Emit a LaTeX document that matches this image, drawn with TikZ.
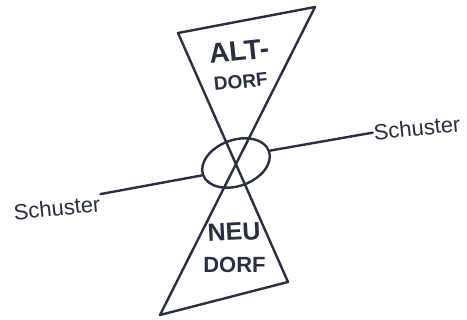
\documentclass[tikz,border=0pt]{standalone}
\usepackage{fontspec}
\setmainfont{Liberation Sans}
\usetikzlibrary{positioning,shapes.geometric}
\definecolor{pen}{HTML}{2B2F3D}
\tikzset{
  penline/.style={draw=pen,line width=2.4pt,line join=round,line cap=round},
  ringnode/.style={ellipse,penline,minimum width=70pt,minimum height=46pt,inner sep=0pt},
  dorflbl/.style={text=pen,font=\bfseries,inner sep=0pt,align=center},
  schlbl/.style={text=pen,font=\fontsize{22}{22}\selectfont,inner sep=1pt}
}
\begin{document}
\begin{tikzpicture}[x=1pt,y=-1pt,node distance=10pt]
  \useasboundingbox (0,0) rectangle (467,320);
  \draw[penline] (178,33) -- (315,7) -- (160,315) -- (288,282) -- cycle;
  \node[ringnode,rotate=20] (ring) at (236,163) {};

  \node[dorflbl,font=\bfseries\fontsize{28}{28}\selectfont,rotate=6] (alt) at (239,51) {ALT-};
  \node[dorflbl,font=\bfseries\fontsize{19}{19}\selectfont,rotate=6,below=14pt of alt] (dorfA) {DORF};
  \node[dorflbl,font=\bfseries\fontsize{25}{25}\selectfont,rotate=3] (neu) at (234,232) {NEU};
  \node[dorflbl,font=\bfseries\fontsize{22}{22}\selectfont,below=16pt of neu] (dorfN) {DORF};

  \node[schlbl,rotate=6] (schL) at (57,208) {Schuster};
  \node[schlbl,rotate=6] (schR) at (417,128) {Schuster};

  \draw[penline] (ring.west) -- (schL.north east);
  \draw[penline] (ring.east) -- (schR.west);
\end{tikzpicture}
\end{document}
